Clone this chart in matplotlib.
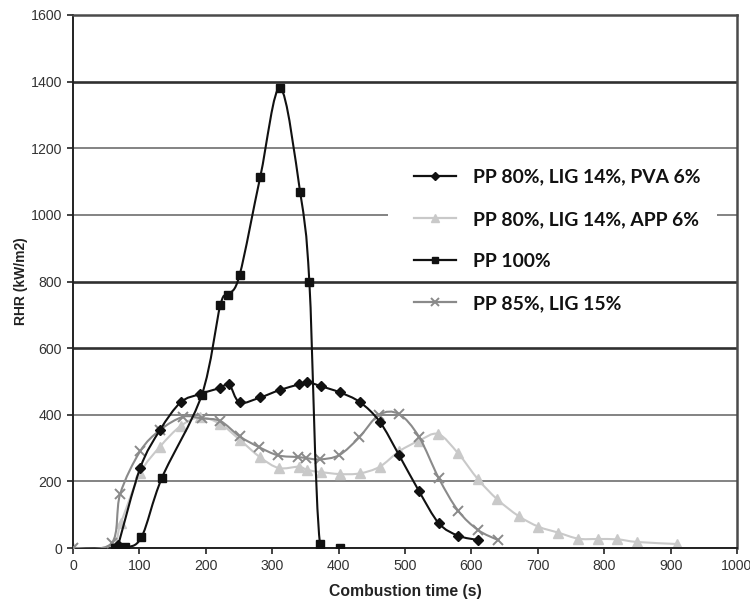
import numpy as np
import matplotlib
matplotlib.use("Agg")
import matplotlib.pyplot as plt
from matplotlib.path import Path
from matplotlib.patches import PathPatch, Rectangle
from matplotlib.lines import Line2D
from matplotlib.font_manager import FontProperties

# Rate of heat release curves (cone calorimeter)
time_pva = [68, 101, 131, 162, 191, 222, 235, 251, 282, 311, 340, 353, 373, 402,
            432, 462, 491, 521, 551, 580, 610]
rhr_pva = [8, 239, 354, 437, 462, 481, 492, 437, 452, 474, 491, 498, 486, 467,
           438, 379, 279, 171, 74, 37, 24]

time_app = [0, 58, 72, 101, 131, 162, 191, 222, 251, 282, 310, 340, 353, 373, 402,
            432, 462, 491, 521, 550, 580, 610, 639, 671, 701, 731, 761, 790, 820,
            850, 910]
rhr_app = [0, 3, 75, 224, 304, 366, 392, 372, 325, 272, 240, 244, 234, 228, 222,
           224, 244, 290, 322, 342, 284, 206, 146, 96, 64, 46, 28, 27, 26, 18, 12]

time_pp = [63, 78, 103, 134, 194, 222, 234, 251, 282, 312, 342, 356, 372, 402]
rhr_pp = [0, 2, 32, 211, 460, 730, 760, 820, 1114, 1381, 1069, 797, 12, 0]

time_lig = [0, 58, 71, 101, 131, 166, 194, 222, 251, 280, 309, 339, 351, 372,
            401, 431, 461, 491, 521, 551, 580, 610, 640]
rhr_lig = [0, 14, 162, 290, 354, 394, 389, 381, 335, 303, 278, 273, 270, 266,
           279, 332, 400, 402, 334, 209, 112, 54, 24]

labels = ["PP 80%, LIG 14%, PVA 6%", "PP 80%, LIG 14%, APP 6%", "PP 100%",
          "PP 85%, LIG 15%"]
x_ticks = list(range(0, 1001, 100))
y_ticks = list(range(0, 1601, 200))


def smooth_path(x, y):
    """Cubic Bezier path through the points (Catmull-Rom style smoothing)."""
    pts = np.column_stack([x, y]).astype(float)
    n = len(pts)
    verts = [pts[0]]
    codes = [Path.MOVETO]
    for i in range(n - 1):
        p0 = pts[i - 1] if i > 0 else pts[i]
        p1 = pts[i]
        p2 = pts[i + 1]
        p3 = pts[i + 2] if i + 2 < n else pts[i + 1]
        verts += [p1 + (p2 - p0) / 6.0, p2 - (p3 - p1) / 6.0, p2]
        codes += [Path.CURVE4] * 3
    return Path(verts, codes)


fig = plt.figure(figsize=(7.5, 6.05), dpi=100)
ax = fig.add_axes([73 / 750, 1 - 548 / 605, 664 / 750, 533 / 605])

series = [
    (time_app, rhr_app, "#c9c9c9", "^", 6.5, 1.0, 2),
    (time_lig, rhr_lig, "#8a8a8a", "x", 7.0, 1.4, 3),
    (time_pva, rhr_pva, "#111111", "D", 5.0, 1.0, 4),
    (time_pp, rhr_pp, "#111111", "s", 5.5, 1.0, 5),
]
handles = {}
for (xs, ys, col, mk, ms, mew, z), lab in zip(series, [labels[1], labels[3], labels[0], labels[2]]):
    ax.add_patch(PathPatch(smooth_path(xs, ys), fill=False, edgecolor=col,
                           lw=1.5, zorder=z))
    ax.plot(xs, ys, ls="none", marker=mk, ms=ms, mew=mew, color=col,
            mec=col, zorder=z + 0.1)
    handles[lab] = Line2D([], [], color=col, lw=1.6, marker=mk, ms=ms - 1,
                          mew=mew, mec=col)

ax.set_xlim(0, 1000)
ax.set_ylim(0, 1600)
ax.set_xticks(x_ticks)
ax.set_yticks(y_ticks)
ax.set_axisbelow(True)
ax.yaxis.grid(True, color="#7a7a7a", lw=1.3)
# a few of the horizontal rules are drawn heavier
for val, gl in zip(y_ticks, ax.get_ygridlines()):
    if val in (600, 800, 1400):
        gl.set_color("#303030")
        gl.set_linewidth(1.9)

tick_font = dict(family="Liberation Sans", size=10.2)
ax.set_xticklabels([str(v) for v in x_ticks], fontdict=tick_font, color="#333333")
ax.set_yticklabels([str(v) for v in y_ticks], fontdict=tick_font, color="#333333")
ax.tick_params(direction="out", length=4, width=1.2, color="#222222", pad=4)

for side in ("left", "bottom"):
    ax.spines[side].set_color("#222222")
    ax.spines[side].set_linewidth(1.4)
for side in ("top", "right"):
    ax.spines[side].set_color("#4a4a4a")
    ax.spines[side].set_linewidth(1.8)

ax.set_xlabel("Combustion time (s)", family="Liberation Sans", weight="bold",
              size=11.3, color="#222222", labelpad=8)
ax.set_ylabel("RHR (kW/m2)", family="Liberation Sans", weight="bold",
              size=10, color="#222222", labelpad=2)

# white backing behind the upper legend entries
ax.add_patch(Rectangle((0.474, 0.518), 0.496, 0.21, transform=ax.transAxes,
                       facecolor="white", edgecolor="none", zorder=1))

leg = ax.legend([handles[l] for l in labels], labels,
                prop=FontProperties(family="Lato", weight="bold", size=13.9),
                frameon=False, loc="upper left",
                bbox_to_anchor=(406 / 750, 1 - 161 / 605),
                bbox_transform=fig.transFigure, borderaxespad=0, borderpad=0.4,
                handlelength=2.2, handletextpad=0.85, labelspacing=1.3)
for t in leg.get_texts():
    t.set_color("#111111")

fig.savefig("out.png", dpi=100)
